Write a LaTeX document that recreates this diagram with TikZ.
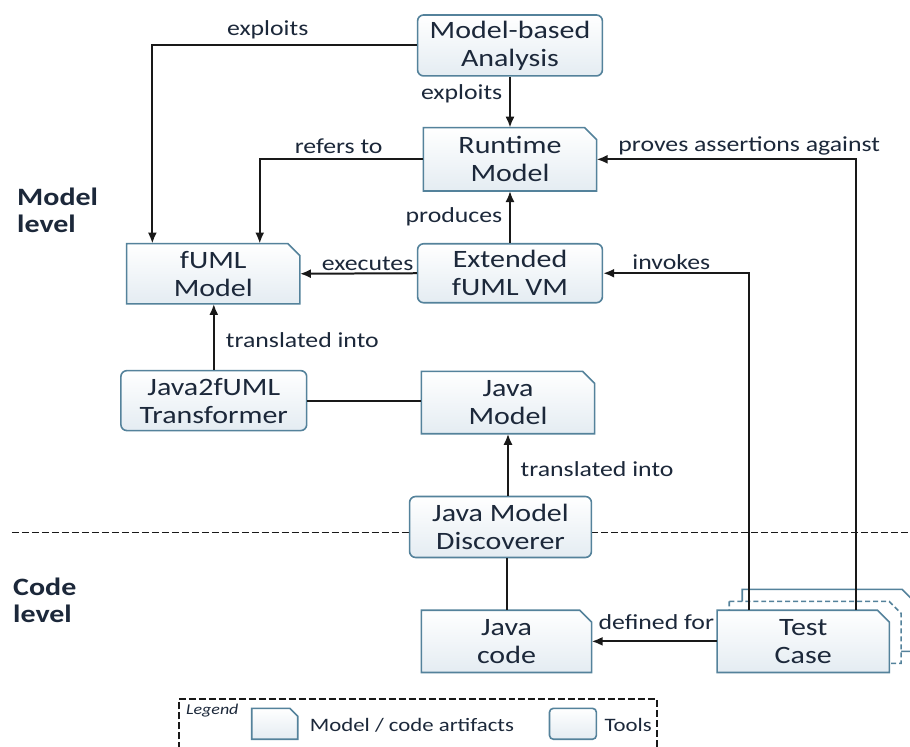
\documentclass[tikz,border=0pt]{standalone}
\usepackage{fontspec}
\setmainfont{Carlito}[FakeStretch=1.2]
\usetikzlibrary{arrows.meta,calc}
\pgfdeclarelayer{back}
\pgfdeclarelayer{shapes}
\pgfsetlayers{back,shapes,main}

\definecolor{boxline}{RGB}{84,130,155}
\definecolor{boxfill}{RGB}{228,236,242}
\definecolor{ink}{RGB}{28,40,58}

\tikzset{
  boxtext/.style={font=\fontsize{25}{28}\selectfont, text=ink, align=center, inner sep=0pt},
  toolbox/.style={boxtext, draw=boxline, line width=1.6pt, rounded corners=6pt,
    top color=white, bottom color=boxfill},
  artline/.style={draw=boxline, line width=1.6pt, top color=white, bottom color=boxfill},
  lbl/.style={font=\fontsize{21.5}{24}\selectfont, text=ink, inner sep=0pt},
  levellbl/.style={font=\bfseries\fontsize{25}{27}\selectfont, text=ink, align=left,
    inner sep=0pt, anchor=north west},
  conn/.style={draw=black!90, line width=2pt},
  arr/.style={conn, -{Latex[length=11pt,width=9pt]}},
  dashline/.style={draw=black!90, line width=1.8pt, dash pattern=on 7pt off 3pt},
}

% artifact: rectangle with a cut top-right corner
% #1 name, #2 x, #3 y, #4 width, #5 height, #6 text
\newcommand\artifact[6]{%
  \node[boxtext, minimum width=#4pt, minimum height=#5pt] (#1) at (#2,#3) {#6};
  \begin{pgfonlayer}{shapes}
    \path[artline] (#1.north west) -- ([xshift=-12pt]#1.north east)
      -- ([yshift=-12pt]#1.north east) -- (#1.south east) -- (#1.south west) -- cycle;
  \end{pgfonlayer}}

\begin{document}
\begin{tikzpicture}[x=1pt,y=-1pt]
\begin{pgfonlayer}{back}
  \fill[white] (0,0) rectangle (910,747);
  % boundary between model level and code level
  \draw[dashline] (12,533) -- (910,533);
\end{pgfonlayer}
\useasboundingbox (0,0) rectangle (910,747);

\node[levellbl] (modellevel) at (17,188) {Model\\level};
\node[levellbl] (codelevel) at (13,578) {Code\\level};

% tools and artifacts
\node[toolbox, minimum width=185pt, minimum height=61pt] (mba) at (510.5,45.5) {Model-based\\Analysis};
\artifact{rt}{510.5}{159.5}{173}{63}{Runtime\\Model}
\artifact{fuml}{213.5}{274}{173}{60}{fUML\\Model}
\node[toolbox, minimum width=185pt, minimum height=59pt] (ext) at (510.5,273.5) {Extended\\fUML VM};
\node[toolbox, minimum width=186pt, minimum height=60pt] (j2f) at (214,401) {Java2fUML\\Transformer};
\artifact{jm}{508.5}{403}{173}{62}{Java\\Model}
\node[toolbox, minimum width=182pt, minimum height=61pt] (jmd) at (501,527.5) {Java Model\\Discoverer};
\artifact{jc}{507}{642}{170}{62}{Java\\code}

% stacked test cases behind the front one
\begin{pgfonlayer}{shapes}
  \draw[boxline, line width=1.6pt, fill=white] (743,590) -- (903,590) -- (915,602) -- (915,652) -- (743,652) -- cycle;
  \draw[boxline, line width=1.6pt, fill=white, dash pattern=on 5pt off 3pt] (730,602) -- (890,602) -- (902,614) -- (902,664) -- (730,664) -- cycle;
\end{pgfonlayer}
\artifact{tc}{804}{642}{172}{62}{Test\\Case}

% connectors
\draw[arr] (mba.west) -| ([xshift=-61pt]fuml.north);
\draw[arr] (mba.south) -- (rt.north);
\draw[arr] (rt.west) -| ([xshift=46.5pt]fuml.north);
\draw[arr] (ext.north) -- (rt.south);
\draw[arr] (ext.west) -- (fuml.east);
\draw[arr] (j2f.north) -- (j2f.north |- fuml.south);
\draw[conn] (j2f.east) -- (j2f.east -| jm.west);
\draw[arr] (jm.south |- jmd.north) -- (jm.south);
\draw[conn] (jc.north |- jmd.south) -- (jc.north);
\draw[arr] (tc.west) -- (jc.east);
\draw[arr] ([xshift=-54pt]tc.north) |- (ext.east);
\draw[arr] ([xshift=53pt]tc.north) |- (rt.east);

% connector labels
\node[lbl, anchor=base] (l1) at (268,36) {exploits};
\node[lbl, anchor=base east] (l2) at (503,100) {exploits};
\node[lbl, anchor=base] (l3) at (339,154) {refers to};
\node[lbl, anchor=base east] (l4) at (503,223) {produces};
\node[lbl, anchor=base] (l5) at (368,271) {executes};
\node[lbl, anchor=base west] (l6) at (226,348) {translated into};
\node[lbl, anchor=base west] (l7) at (521,477) {translated into};
\node[lbl, anchor=base] (l8) at (657,630) {defined for};
\node[lbl, anchor=base] (l9) at (672,270) {invokes};
\node[lbl, anchor=base] (l10) at (750,152) {proves assertions against};

% legend
\draw[dashline] (179,760) -- (179,700) -- (658,700) -- (658,760);
\node[font=\itshape\fontsize{15}{17}\selectfont, text=ink, inner sep=0pt, anchor=base west] (legend) at (186,715) {Legend};
\draw[boxline, line width=1.6pt, top color=white, bottom color=boxfill] (252,709) -- (290,709) -- (298,717) -- (298,740) -- (252,740) -- cycle;
\node[font=\fontsize{19}{22}\selectfont, text=ink, inner sep=0pt, anchor=base west] (legart) at (310,732) {Model / code artifacts};
\node[draw=boxline, line width=1.6pt, rounded corners=4pt, top color=white, bottom color=boxfill,
  minimum width=47pt, minimum height=31pt, inner sep=0pt] (legtool) at (573.5,724.5) {};
\node[font=\fontsize{19}{22}\selectfont, text=ink, inner sep=0pt, anchor=base west] (legtools) at (605,732) {Tools};
\end{tikzpicture}
\end{document}
